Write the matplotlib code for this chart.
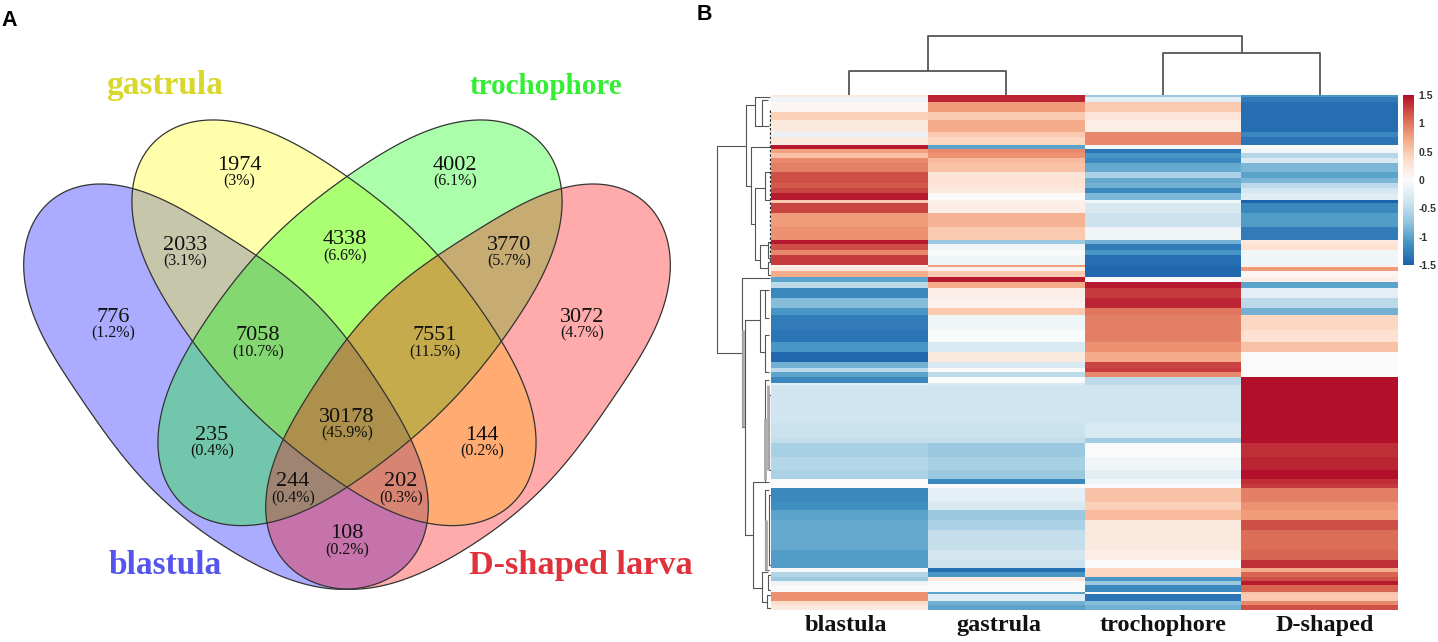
import numpy as np
import matplotlib
matplotlib.use("Agg")
import matplotlib.pyplot as plt
from matplotlib.patches import Polygon
from matplotlib.colors import LinearSegmentedColormap, Normalize
from matplotlib.cm import ScalarMappable

W, H = 1438, 642
# ---------- data ----------
venn_counts = ["776","1974","4002","3072","2033","4338","3770","7058","7551","235","30178","144","244","202","108"]
venn_pcts = ["(1.2%)","(3%)","(6.1%)","(4.7%)","(3.1%)","(6.6%)","(5.7%)","(10.7%)","(11.5%)","(0.4%)","(45.9%)","(0.2%)","(0.4%)","(0.3%)","(0.2%)"]
set_names = ["blastula","gastrula","trochophore","D-shaped larva"]
stages = ["blastula","gastrula","trochophore","D-shaped"]
cbar_ticks = [1.5,1,0.5,0,-0.5,-1,-1.5]
cbar_labels = ["1.5","1","0.5","0","-0.5","-1","-1.5"]

band_rows = [7,13,30,25,35,15,25,13, 12,15,15,25,20,15,15,15,20, 10,30,40,40,12,18,15,30,7,10,20,13,20,30,30,20,45,35,30,30,20,10,15,18,7,115,45,15,40,40,27,15,13,40,25,30,30,60,30,25,10,15,12,13,20,7,20,13,15]
blastula = [0.2,-0.1,0.05,0.45,0.2,-0.15,0.2,1.45, 0.75,0.55,0.9,0.95,1.2,1.2,1.15,1.25,1.45, 0.5,1.25,0.8,0.85,1.45,1.2,0.9,1.3,0.1,0.2,0.7,-1.0,-0.5,-1.2,-0.8,-1.1,-1.3,-1.35,-1.1,-1.45,-0.9,-0.5,-1.0,-1.2,-0.2,-0.37,-0.42,-0.45,-0.62,-0.55,-0.6,0.0,0.0,-1.2,-1.15,-1.0,-0.95,-0.95,-1.05,-1.05,-0.05,-0.55,-0.7,-0.1,0.0,0.85,0.85,0.35,0.2]
gastrula = [1.4,1.4,0.8,0.5,0.7,0.5,0.4,-1.0, 0.9,0.85,0.6,0.55,0.25,0.3,0.25,0.2,0.02, 0.1,0.15,0.65,0.5,-0.7,-0.1,0.0,-0.1,0.8,0.1,0.5,1.45,0.7,0.15,0.1,0.5,-0.1,-0.02,-0.3,0.2,-0.3,0.0,-0.5,0.0,-0.3,-0.37,-0.42,-0.45,-0.7,-0.62,-0.7,-1.2,0.0,-0.2,-0.3,-0.7,-0.6,-0.45,-0.35,-0.4,-1.4,-1.1,0.2,0.0,0.0,-1.0,-0.25,-0.9,-1.0]
trochophore = [-0.7,-0.2,0.5,0.25,0.15,0.9,0.9,-0.05, -1.35,-1.1,-1.2,-0.95,-0.6,-0.95,-0.9,-1.2,-0.85, -0.1,-0.3,-0.4,-0.1,-0.9,-1.3,-1.1,-1.4,-1.45,-1.45,-1.45,0.0,1.45,1.3,1.4,1.0,0.95,0.95,0.85,0.7,1.25,1.3,0.9,-0.5,-0.5,-0.37,-0.3,-0.65,0.0,-0.1,-0.2,-0.1,0.0,0.55,0.45,0.6,0.2,0.2,0.15,0.0,0.4,0.4,-1.1,-0.7,-1.2,0.0,-1.35,-0.8,-0.9]
d_shaped = [-1.1,-1.3,-1.4,-1.4,-1.4,-1.2,-1.35,0.0, -0.1,-0.55,-0.3,-0.85,-1.0,-0.85,-0.5,-0.35,-0.25, -1.5,-1.2,-1.05,-1.3,0.2,0.3,-0.1,-0.1,0.1,0.8,0.05,0.15,-1.0,-0.2,-0.5,-0.9,0.4,0.3,0.55,0.0,0.0,0.0,0.0,1.5,1.5,1.5,1.5,1.5,1.35,1.4,1.5,1.35,1.3,0.95,0.85,0.8,1.2,1.05,1.1,1.35,0.7,1.1,1.2,1.45,1.1,0.55,0.5,0.9,1.2]

# ---------- style / layout ----------
plt.rcParams["font.family"] = ["Liberation Serif", "DejaVu Serif"]
cmap = LinearSegmentedColormap.from_list("rb", ["#1c62ac","#4393c3","#92c5de","#d1e5f0","#fbfbfb","#fddbc7","#f4a582","#d6604d","#b2102a"])
fig = plt.figure(figsize=(W/100, H/100), dpi=100)
canvas = fig.add_axes([0, 0, 1, 1])
canvas.set_xlim(0, W); canvas.set_ylim(H, 0); canvas.axis("off")

# ---------- Venn: egg-shaped petals, smoothed closed curve through outline points ----------
def smooth_closed(pts, K=5, n=500):
    p = np.asarray(pts, float)
    q = np.vstack([p, p[:1]])
    s = np.concatenate([[0], np.cumsum(np.hypot(*np.diff(q, axis=0).T))])
    t = s[:-1] / s[-1] * 2*np.pi
    basis = lambda u: np.column_stack([np.ones_like(u)] + [f(k*u) for k in range(1, K+1) for f in (np.cos, np.sin)])
    coef = np.linalg.lstsq(basis(t), p, rcond=None)[0]
    return basis(np.linspace(0, 2*np.pi, n, endpoint=False)) @ coef

blue_outline = [(24,265),(33,220),(57,195),(80,187),(110,184),(134,188),(200,223),(258,253),(300,291),(347,338),(382,390),(412,440),(424,480),(428,513),(425,533),(410,563),(383,583),(350,588),(317,585),(280,575),(230,553),(180,513),(130,463),(87,410),(50,350),(30,297)]
yellow_outline = [(133,188),(137,167),(157,137),(180,125),(213,121),(267,132),(347,175),(392,212),(436,253),(470,295),(503,342),(530,410),(536,443),(530,480),(507,510),(473,523),(430,523),(383,507),(347,488),(283,440),(237,393),(191,342),(167,303),(143,253),(133,210)]
AXIS = 694
mirror = lambda pts: [(AXIS-x, y) for x, y in pts]
petals = [(blue_outline,"#0000ff"),(yellow_outline,"#ffff00"),(mirror(yellow_outline),"#00ff00"),(mirror(blue_outline),"#ff0000")]
for pts, col in petals:
    canvas.add_patch(Polygon(smooth_closed(pts), closed=True, facecolor=col, alpha=0.33, edgecolor="none", zorder=1))
for pts, col in petals:
    canvas.add_patch(Polygon(smooth_closed(pts), closed=True, facecolor="none", edgecolor="#333333", lw=0.9, zorder=2))
venn_pos = [(113,314),(239,162),(455,162),(582,314),(185,242),(345,237),(509,242),(258,333),(435,333),(212,432),(347,414),(482,432),(293,479),(401,479),(347,531)]
for (x,y), n, p in zip(venn_pos, venn_counts, venn_pcts):
    canvas.text(x, y+7.5, n, ha="center", va="baseline", fontsize=16, color="#111111", zorder=3)
    canvas.text(x, y+23.5, p, ha="center", va="baseline", fontsize=11.5, color="#111111", zorder=3)
name_style = [(165,574,24,"#5555ee"),(165,94,24,"#d8d82c"),(546,94,21,"#33ee33"),(581,574,24.7,"#e0323c")]
for (x,y,fs,c), s in zip(name_style, set_names):
    canvas.text(x, y, s, ha="center", va="baseline", fontsize=fs, fontweight="bold", color=c, zorder=3)
canvas.text(1, 21, "A", fontsize=15.5, fontweight="bold", family="Liberation Sans", va="center")
canvas.text(697, 15, "B", fontsize=15.5, fontweight="bold", family="Liberation Sans", va="center")

# ---------- heatmap ----------
hx0, hx1, hy0, hy1 = 771, 1398, 95, 610
hm = fig.add_axes([hx0/W, 1-hy1/H, (hx1-hx0)/W, (hy1-hy0)/H])
matrix = np.array([blastula, gastrula, trochophore, d_shaped]).T
edges = np.concatenate([[0], np.cumsum(band_rows)])
hm.pcolormesh(np.arange(5), edges, matrix, cmap=cmap, vmin=-1.5, vmax=1.5, shading="flat")
hm.set_ylim(edges[-1], 0); hm.axis("off")
for x, s in zip([846, 999, 1163, 1324.5], stages):
    canvas.text(x, 631, s, ha="center", va="baseline", fontsize=17.5, fontweight="bold", color="#111111")

# ---------- colorbar ----------
cax = fig.add_axes([1403/W, 1-265/H, 11/W, 170/H])
cb = fig.colorbar(ScalarMappable(Normalize(-1.5, 1.5), cmap), cax=cax)
cb.outline.set_visible(False)
cb.set_ticks(cbar_ticks, labels=cbar_labels)
cb.ax.tick_params(length=0, pad=3, labelsize=7.5)
for t in cb.ax.get_yticklabels():
    t.set_family("Liberation Sans"); t.set_fontweight("bold"); t.set_color("#333333")

# ---------- dendrograms (brackets) ----------
dc = "#555555"
top_tree = [(849,1006,71,95,95),(1163,1320,52.6,95,95),(927.7,1241.7,35.5,71,52.6)]
for x0,x1,y,y0,y1 in top_tree:
    canvas.plot([x0,x0,x1,x1],[y0,y,y,y1],color=dc,lw=1.3,zorder=2,solid_capstyle="butt")
left_tree = [(717,146,353,746,742),(746,105,186,755,751),(755,97,126,770,762),(762,100,126,768,769),
             (751,147,224,770,755),(755,188,260,765,760),(765,172,200,770,770),(760,245,268,768,768),
             (768,242,258,771,771),(768,262,275,771,771),
             (742,278,427,770,745),(745,320,535,760,753),(760,290,352,765,765),(765,290,318,769,769),
             (765,335,372,769,769),(753,482,588,765,762),(765,380,482,769,769),(769,395,470,771,771),
             (765,490,570,769,769),(769,495,565,771,771),(762,572,602,768,767),(768,575,590,771,771),
             (767,595,608,771,771)]
for x,y0,y1,xa,xb in left_tree:
    canvas.plot([xa,x,x,xb],[y0,y0,y1,y1],color=dc,lw=0.8,zorder=2,solid_capstyle="butt")
thick_stems = [(743,330,427),(765,418,480),(768,385,470),(766,520,570)]
for x,y0,y1 in thick_stems:
    canvas.plot([x,x],[y0,y1],color="#a8a8a8",lw=2.0,zorder=2,solid_capstyle="butt")
canvas.plot([770,770],[110,262],color="#222222",lw=0.9,ls=(0,(2,1.5)),zorder=2)

fig.savefig("out.png", dpi=100)
